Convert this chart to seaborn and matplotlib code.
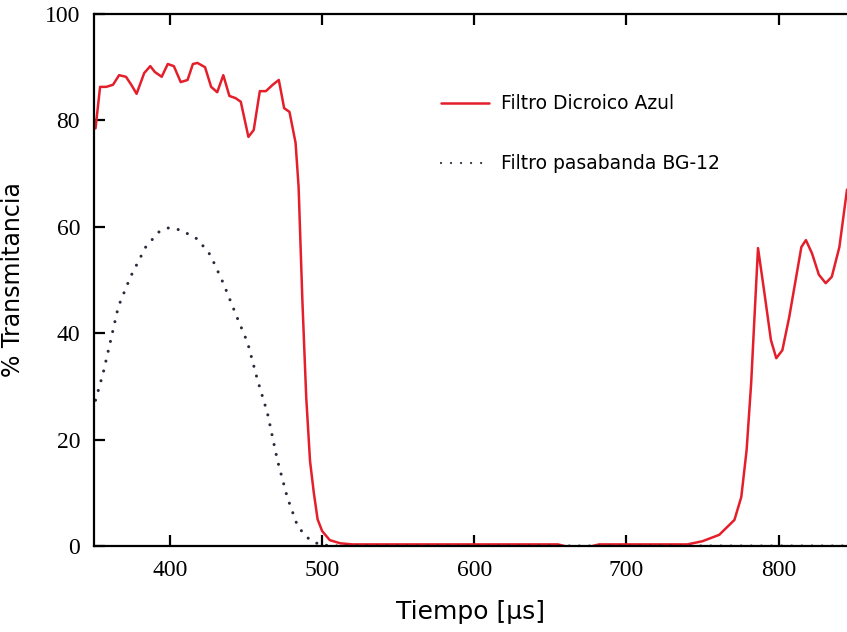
import matplotlib
matplotlib.use("Agg")
import matplotlib.pyplot as plt
import seaborn as sns
import pandas as pd

# data
dicro_x = [351, 354, 358, 362.5, 366.5, 371, 374.5, 378, 383, 387, 390, 394.5, 398.5, 402.5,
           407, 411.5, 415, 418, 423, 427, 431, 435, 439, 443, 446.5, 451.5, 455, 459, 463,
           467.5, 471.5, 475, 478.5, 482.5, 484.5, 487, 489.5, 492, 494.5, 497, 500, 505, 512,
           520, 600, 655, 662, 675, 682, 740, 750, 761, 771, 775.5, 779, 782, 784, 786.5,
           790.5, 795, 798.5, 802.5, 807, 815, 818, 822, 826.5, 831, 835, 840, 845]
dicro_y = [78.5, 86.3, 86.3, 86.7, 88.5, 88.2, 86.7, 85.0, 88.9, 90.2, 89.1, 88.2, 90.6, 90.2,
           87.2, 87.6, 90.6, 90.8, 90.0, 86.3, 85.3, 88.5, 84.6, 84.2, 83.5, 76.9, 78.2, 85.5, 85.5,
           86.7, 87.6, 82.3, 81.6, 75.8, 67.5, 46, 28, 16, 10, 5, 2.8, 1.1, 0.5,
           0.3, 0.3, 0.3, -0.2, -0.2, 0.3, 0.3, 0.9, 2.1, 4.9, 9.2, 18, 30.6, 42, 56,
           48, 38.7, 35.3, 36.8, 43, 56.2, 57.5, 55, 51, 49.4, 50.6, 56.2, 67]

bg12_x = [351, 356, 361, 366, 374, 384, 392.5, 399, 407, 418, 426.5, 435, 444, 451, 457.5,
          464, 470.5, 477, 484, 492, 499, 510, 845]
bg12_y = [27.4, 32.5, 38.7, 45, 50.6, 56.2, 59, 59.8, 59.4, 57.7, 54.7, 49.4, 43, 38.2, 31.2,
          25, 16.2, 9.2, 3.6, 1.1, 0.2, 0, 0]

x_ticks = [400, 500, 600, 700, 800]
y_ticks = [0, 20, 40, 60, 80, 100]

df_d = pd.DataFrame({"x": dicro_x, "y": dicro_y})
df_b = pd.DataFrame({"x": bg12_x, "y": bg12_y})

sns.set_style("ticks")
plt.rcParams.update({"text.color": "black", "axes.labelcolor": "black",
                     "xtick.color": "black", "ytick.color": "black",
                     "axes.edgecolor": "black"})
fig = plt.figure(figsize=(8.47, 6.32), dpi=100)
ax = fig.add_axes([94 / 847, 86 / 632, 753 / 847, 532 / 632])

sns.lineplot(data=df_d, x="x", y="y", ax=ax, color="#e41f2b", linewidth=1.8,
             sort=False, label="Filtro Dicroico Azul")
sns.lineplot(data=df_b, x="x", y="y", ax=ax, color="#2a2a3a", linewidth=2.2,
             sort=False, label="Filtro pasabanda BG-12")
# round dots, like the original
ax.lines[1].set_linestyle((0, (0.01, 3.3)))
ax.lines[1].set_dash_capstyle("round")

ax.set_xlim(350, 845)
ax.set_ylim(0, 100)
ax.set_xticks(x_ticks)
ax.set_yticks(y_ticks)
ax.spines["right"].set_visible(False)
for s in ["left", "bottom", "top"]:
    ax.spines[s].set_linewidth(1.6)
ax.tick_params(direction="in", length=8, width=1.6, top=True, right=False,
               labelsize=17, pad=10)
for lab in ax.get_xticklabels() + ax.get_yticklabels():
    lab.set_family("Liberation Serif")

ax.set_xlabel("Tiempo [µs]", fontsize=18, family="DejaVu Sans", labelpad=14)
ax.set_ylabel("% Transmitancia", fontsize=17, family="DejaVu Sans", labelpad=14)

leg = ax.legend(loc="upper left", bbox_to_anchor=(0.448, 0.867), frameon=False,
                fontsize=13.5, handlelength=2.6, handletextpad=0.6, labelspacing=2.2,
                borderpad=0)
leg.get_lines()[1].set_linestyle((0, (0.01, 4.5)))
leg.get_lines()[1].set_dash_capstyle("round")
leg.get_lines()[1].set_linewidth(1.6)

fig.savefig("out.png", dpi=100)
